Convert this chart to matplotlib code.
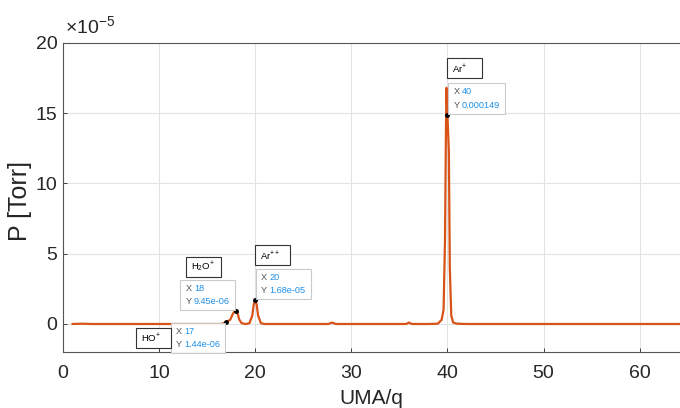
import matplotlib
matplotlib.use("Agg")
import matplotlib.pyplot as plt
from matplotlib.patches import Rectangle
from matplotlib.transforms import IdentityTransform
from matplotlib.ticker import FuncFormatter

plt.rcParams["font.family"] = ["Liberation Sans", "DejaVu Sans"]
plt.rcParams["mathtext.fontset"] = "custom"
plt.rcParams["mathtext.rm"] = "Liberation Sans"
plt.rcParams["mathtext.it"] = "Liberation Sans:italic"

# mass spectrum, pressure in Torr
mass = [1, 2, 3, 5, 10, 15, 16.5, 17, 17.4, 17.7, 17.85, 18.0, 18.15, 18.35, 18.6, 19.0,
        19.4, 19.7, 19.85, 20.0, 20.15, 20.3, 20.6, 21, 22, 25, 27.6, 28, 28.4, 30,
        35, 35.7, 36, 36.3, 38, 39.0, 39.4, 39.6, 39.75, 39.85, 39.9, 40.0, 40.15,
        40.25, 40.4, 40.6, 41, 42, 45, 50, 55, 60, 64.5]
pressure = [0, 0.02e-5, 0, 0, 0, 0, 0, 1.44e-6, 0.3e-5, 0.75e-5, 0.9e-5, 0.945e-5, 0.8e-5,
            0.3e-5, 0.05e-5, 0, 0.05e-5, 0.6e-5, 1.4e-5, 1.68e-5, 1.4e-5, 0.6e-5, 0.05e-5,
            0, 0, 0, 0, 0.1e-5, 0, 0, 0, 0, 0.1e-5, 0, 0, 0.02e-5, 0.3e-5, 1.0e-5,
            6e-5, 14e-5, 16.8e-5, 14.9e-5, 12.3e-5, 4e-5, 0.6e-5, 0.1e-5, 0.02e-5, 0, 0, 0, 0, 0, 0]

tip_x = [17, 18, 20, 40]
tip_y = [1.44e-06, 9.45e-06, 1.68e-05, 0.000149]
tip_lbl = ["1.44e-06", "9.45e-06", "1.68e-05", "0.000149"]
tip_side = [("right", "top"), ("right", "bottom"), ("left", "bottom"), ("left", "bottom")]

ions = [r"HO$^{+}$", r"H$_2$O$^{+}$", r"Ar$^{++}$", r"Ar$^{+}$"]
ion_corner = [(7.6, -0.29e-5), (12.8, 4.75e-5), (20.0, 5.6e-5), (40.0, 18.9e-5)]  # upper-left

orange = "#D95319"
blue = "#1E90E8"
fs_tip = 6.6

fig = plt.figure(figsize=(6.8, 4.08), dpi=100)
ax = fig.add_axes([0.0926, 0.137, 0.9074, 0.758])

ax.plot(mass, pressure, color=orange, lw=1.6, zorder=3)
ax.plot(tip_x, tip_y, "o", color="black", ms=2.5, zorder=4)

ax.set_xlim(0, 64.2)
ax.set_ylim(-2.0e-5, 20e-5)
ax.set_xticks(range(0, 70, 10))
ax.set_yticks([0, 5e-5, 10e-5, 15e-5, 20e-5])
ax.yaxis.set_major_formatter(FuncFormatter(lambda v, p: "%d" % round(v / 1e-5)))
ax.grid(True, color="#e3e3e3", lw=0.8)
ax.set_axisbelow(True)
ax.tick_params(labelsize=14, colors="#262626", length=3, width=0.6, direction="in")
ax.tick_params(axis="x", pad=9)
ax.tick_params(axis="y", pad=4)
for s in ["left", "bottom", "top"]:
    ax.spines[s].set_color("#555555")
    ax.spines[s].set_linewidth(0.8)
ax.spines["right"].set_visible(False)

ax.set_xlabel("UMA/q", fontsize=15, color="#262626", labelpad=5)
ax.set_ylabel("P [Torr]", fontsize=18, color="#262626")
ax.yaxis.set_label_coords(-0.05, 0.49)
fig.text(0.096, 0.918, r"$\times$10$^{-5}$", fontsize=14, color="#262626")

fig.canvas.draw()
rend = fig.canvas.get_renderer()
pix = IdentityTransform()

# data tips: gray X/Y, blue values, light box with a corner on the point
pad = 5
for xv, yv, lbl, (ha, va) in zip(tip_x, tip_y, tip_lbl, tip_side):
    t1 = fig.text(0, 0, "X\nY", fontsize=fs_tip, color="#505050", linespacing=1.6,
                  ha="left", va="bottom", transform=pix, zorder=6)
    t2 = fig.text(0, 0, "%d\n%s" % (xv, lbl), fontsize=fs_tip, color=blue,
                  linespacing=1.6, ha="left", va="bottom", transform=pix, zorder=6)
    e1 = t1.get_window_extent(rend)
    e2 = t2.get_window_extent(rend)
    gap = 2.5
    w = e1.width + gap + e2.width + 2 * pad
    h = max(e1.height, e2.height) + 2 * pad - 2
    px, py = ax.transData.transform((xv, yv))
    x0 = px + 1 if ha == "left" else px - 1 - w
    y0 = py + 1 if va == "bottom" else py - 1 - h
    fig.patches.append(Rectangle((x0, y0), w, h, transform=pix, fc="white", ec="#c8c8c8",
                                 lw=0.8, alpha=0.95, zorder=5))
    t1.set_position((x0 + pad, y0 + pad - 1))
    t2.set_position((x0 + pad + e1.width + gap, y0 + pad - 1))

# ion name boxes
for (cx, cy), s in zip(ion_corner, ions):
    px, py = ax.transData.transform((cx, cy))
    fig.patches.append(Rectangle((px, py - 20), 35, 20, transform=pix, fc="white",
                                 ec="#333333", lw=0.8, zorder=5))
    fig.text(px + 5, py - 10, s, fontsize=6.8, va="center", ha="left", transform=pix,
             zorder=6)

fig.savefig("out.png", dpi=100)
